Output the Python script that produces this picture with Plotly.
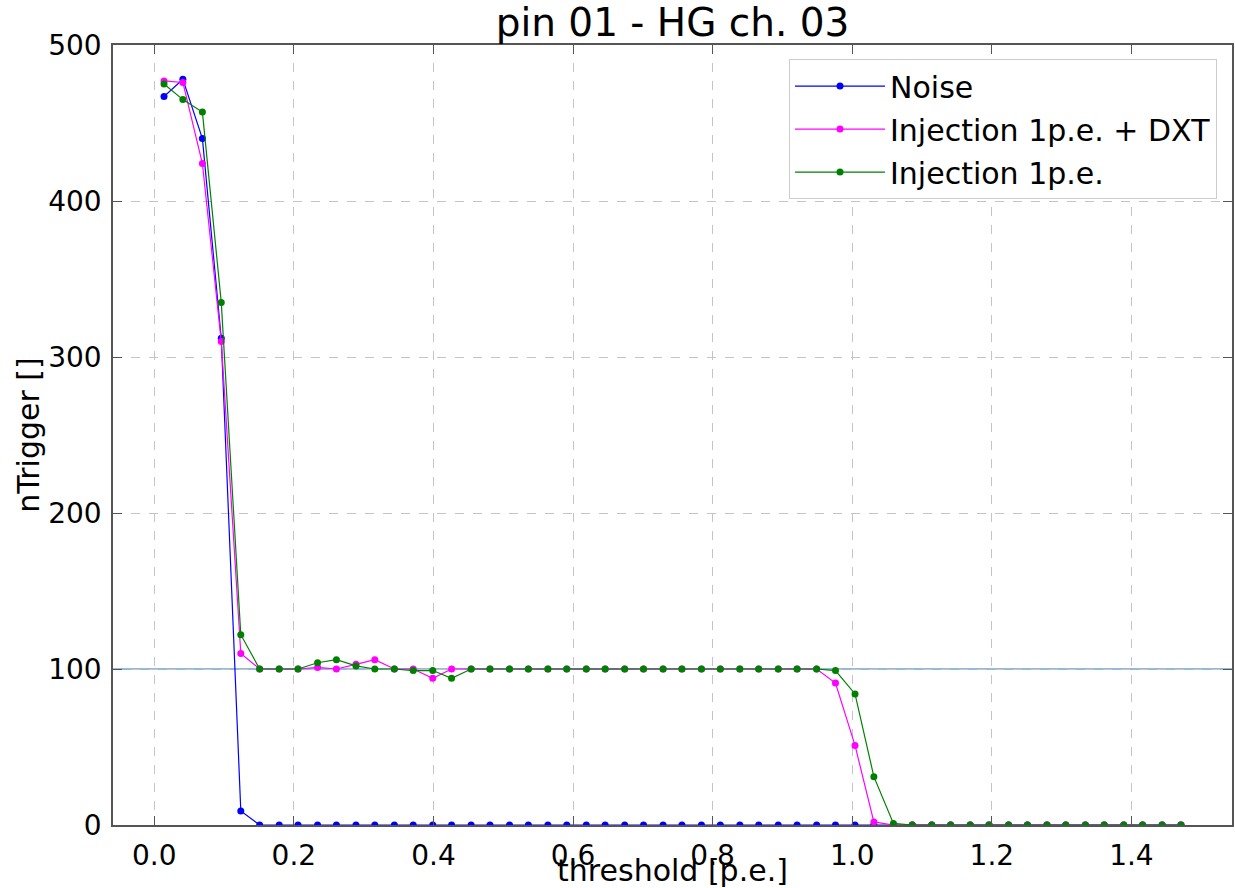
import plotly.graph_objects as go

threshold = [0.014, 0.041, 0.069, 0.096, 0.124, 0.151, 0.179, 0.206, 0.234, 0.261,
             0.289, 0.316, 0.344, 0.371, 0.399, 0.426, 0.454, 0.481, 0.509, 0.536,
             0.564, 0.591, 0.619, 0.646, 0.674, 0.701, 0.729, 0.756, 0.784, 0.811,
             0.839, 0.866, 0.894, 0.921, 0.949, 0.976, 1.004, 1.031, 1.059, 1.086,
             1.114, 1.141, 1.169, 1.196, 1.224, 1.251, 1.279, 1.306, 1.334, 1.361,
             1.389, 1.416, 1.444, 1.471]

noise = [467, 478, 440, 312, 9, 0, 0, 0, 0, 0,
         0, 0, 0, 0, 0, 0, 0, 0, 0, 0,
         0, 0, 0, 0, 0, 0, 0, 0, 0, 0,
         0, 0, 0, 0, 0, 0, 0, 0, 0, 0,
         0, 0, 0, 0, 0, 0, 0, 0, 0, 0,
         0, 0, 0, 0]

inj_dxt = [477, 476, 424, 310, 110, 100, 100, 100, 101, 100,
           103, 106, 100, 100, 94, 100, 100, 100, 100, 100,
           100, 100, 100, 100, 100, 100, 100, 100, 100, 100,
           100, 100, 100, 100, 100, 91, 51, 2, 0, 0,
           0, 0, 0, 0, 0, 0, 0, 0, 0, 0,
           0, 0, 0, 0]

inj = [475, 465, 457, 335, 122, 100, 100, 100, 104, 106,
       102, 100, 100, 99, 99, 94, 100, 100, 100, 100,
       100, 100, 100, 100, 100, 100, 100, 100, 100, 100,
       100, 100, 100, 100, 100, 99, 84, 31, 1, 0,
       0, 0, 0, 0, 0, 0, 0, 0, 0, 0,
       0, 0, 0, 0]

series_names = ["Noise", "Injection 1p.e. + DXT", "Injection 1p.e."]
series_colors = ["#0000ff", "#ff00ff", "#008000"]
reference_level = 100

FONT = "DejaVu Sans"

fig = go.Figure()
for name, ys, col in zip(series_names, [noise, inj_dxt, inj], series_colors):
    fig.add_trace(go.Scatter(
        x=threshold, y=ys, name=name, mode="lines+markers",
        line=dict(color=col, width=1.2),
        marker=dict(color=col, size=7),
        legendgroup=name,
    ))

fig.add_hline(y=reference_level, line=dict(color="#6fa3cf", width=1.5), layer="below")

axis_common = dict(
    showline=True, linecolor="#555555", linewidth=1.5, mirror="ticks",
    ticks="inside", ticklen=9, tickcolor="#555555", tickwidth=1.2,
    showgrid=True, gridcolor="#c4c4c4", griddash="dash", gridwidth=1,
    zeroline=False,
    tickfont=dict(family=FONT, size=28, color="black"),
)

fig.update_xaxes(
    range=[-0.0591, 1.5441], dtick=0.2, tick0=0, tickformat=".1f",
    title=dict(text="threshold [p.e.]", font=dict(family=FONT, size=30, color="black"), standoff=6),
    ticklabelstandoff=5,
    **axis_common,
)
fig.update_yaxes(
    range=[0, 500], dtick=100, tick0=0,
    title=dict(text="nTrigger []", font=dict(family=FONT, size=30, color="black"), standoff=0),
    ticklabelstandoff=4,
    **axis_common,
)

fig.update_layout(
    width=1235, height=888,
    margin=dict(l=113, r=3, t=45, b=63, autoexpand=False),
    paper_bgcolor="white", plot_bgcolor="white",
    title=dict(text="pin 01 - HG ch. 03", x=0.5, xref="paper", xanchor="center",
               y=0.975, yref="container", yanchor="middle",
               font=dict(family=FONT, size=39, color="black")),
    legend=dict(
        x=0.9866, y=0.982, xanchor="right", yanchor="top",
        bgcolor="white", bordercolor="#cccccc", borderwidth=1,
        font=dict(family=FONT, size=30, color="black"),
        tracegroupgap=1, itemwidth=90,
    ),
    showlegend=True,
)

fig.write_html("out.html", config={"displayModeBar": False},
               post_script="document.body.style.margin='0';document.body.style.overflow='hidden';")
